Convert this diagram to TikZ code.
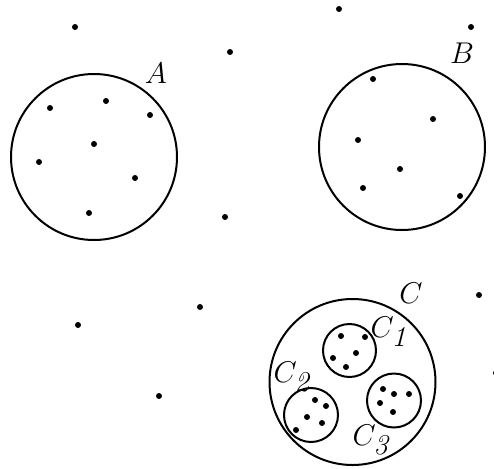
\documentclass[tikz,border=0pt]{standalone}
\begin{document}
\begin{tikzpicture}[x=0.4pt,y=-0.4pt,
  set/.style={draw=black,line width=0.8pt},
  pt/.style={fill=black},
  lbl/.style={inner sep=0pt,font=\fontsize{11.5}{13}\selectfont}]
\useasboundingbox (0,0) rectangle (494,468);
% big circles
\draw[set] (94,157) circle[radius=83];
\draw[set] (402,147) circle[radius=83];
\draw[set] (352.5,382) circle[radius=83];
\draw[set] (349.5,350.5) circle[radius=26.5];
\draw[set] (311,415) circle[radius=27];
\draw[set] (394,400.5) circle[radius=27];
% labels
\node[lbl] (la) at (156,73) {$A$};
\node[lbl] (lb) at (462,53) {$B$};
\node[lbl] (lc) at (411,293) {$C$};
\node[lbl] (lc1) at (389,332) {$C_{\textit{1}}$};
\node[lbl] (lc2) at (292,377) {$C_{\textit{2}}$};
\node[lbl] (lc3) at (371,440) {$C_{\textit{3}}$};
% dots
\foreach \x/\y in {50/108,106/101,150/115,94/144,39/162,135/178,89/213,
  75/27,230/52,225/217,
  373/79,433/119,358/140,400/169,363/188,460/196,
  339/9,471/27,
  341/336,365/337,356/353,333/358,346/367,
  315/400,326/406,307/417,322/423,296/430,
  383/389,394/394,409/394,380/403,393/412,
  479/295,496/373,78/325,200/307,159/396}
  \fill[pt] (\x,\y) circle[radius=3];
\end{tikzpicture}
\end{document}
